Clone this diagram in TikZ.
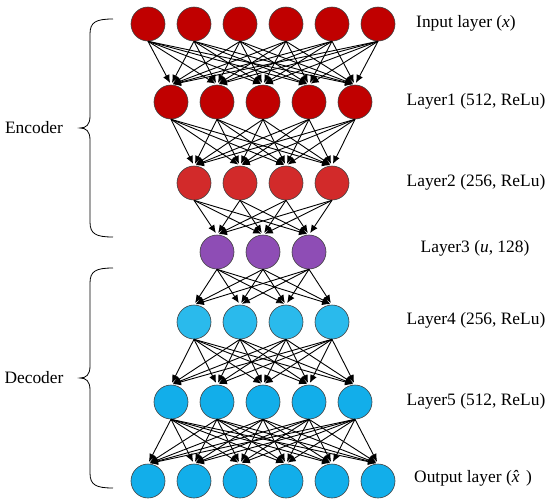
\documentclass[tikz,border=0pt]{standalone}
\usepackage{fontspec}
\setmainfont{Liberation Serif}
\usetikzlibrary{arrows.meta}
\definecolor{inred}{HTML}{C00000}
\definecolor{midred}{HTML}{D22A2A}
\definecolor{latent}{HTML}{8E4DB5}
\definecolor{lightblue}{HTML}{2ABAEC}
\definecolor{outblue}{HTML}{12AEEA}
\tikzset{
  neuron/.style={circle, draw=black!75, line width=0.6pt, minimum size=34pt, inner sep=0pt},
  link/.style={-{Latex[length=8pt,width=7pt]}, line width=0.9pt, shorten >=2pt},
  lab/.style={font=\fontsize{17.4}{20}\selectfont},
  brace/.style={line width=0.8pt}
}
\begin{document}
\begin{tikzpicture}[x=1pt, y=-1pt]
  \useasboundingbox (0,0) rectangle (550,504);
  % neurons
  \foreach \l/\n/\y/\col in {0/6/24/inred, 1/5/102/inred, 2/4/183/midred, 3/3/252/latent,
                             4/4/322/lightblue, 5/5/402/outblue, 6/6/481/outblue}
    \foreach \i in {1,...,\n}
      \node[neuron, fill=\col] (n\l-\i) at ({263+(\i-(\n+1)/2)*46}, \y) {};
  % links
  \foreach \l/\p/\n/\m in {1/0/5/6, 2/1/4/5, 3/2/3/4, 4/3/4/3, 5/4/5/4, 6/5/6/5}
    \foreach \j in {1,...,\m}
      \foreach \i in {1,...,\n}
        \draw[link] (n\p-\j.south) -- (n\l-\i.north);
  \node[lab] (tin) at (466,23) {Input layer (\textit{x})};
  \node[lab] (t1) at (476,101) {Layer1 (512, ReLu)};
  \node[lab] (t2) at (476,182) {Layer2 (256, ReLu)};
  \node[lab] (t3) at (475,248) {Layer3 (\textit{u}, 128)};
  \node[lab] (t4) at (476,320) {Layer4 (256, ReLu)};
  \node[lab] (t5) at (476,401) {Layer5 (512, ReLu)};
  \node[lab] (tout) at (473,478) {Output layer (\textit{\^x})};
  \draw[brace] (113,19) .. controls (96,19) and (90,22) .. (90,34) -- (90,116)
    .. controls (90,125) and (86,128) .. (80,128) .. controls (86,128) and (90,131) .. (90,140)
    -- (90,222) .. controls (90,234) and (96,237) .. (113,237);
  \node[lab] (enc) at (34,128) {Encoder};
  \draw[brace] (113,268) .. controls (96,268) and (90,271) .. (90,283) -- (90,366)
    .. controls (90,375) and (86,378) .. (80,378) .. controls (86,378) and (90,381) .. (90,390)
    -- (90,473) .. controls (90,485) and (96,488) .. (113,488);
  \node[lab] (dec) at (34,378) {Decoder};
\end{tikzpicture}
\end{document}
